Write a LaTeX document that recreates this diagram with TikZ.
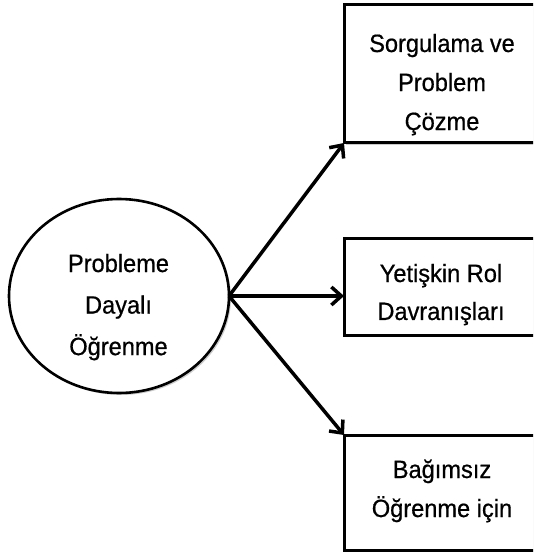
\documentclass[tikz,border=0pt]{standalone}
\usepackage{fontspec}
\setmainfont{Liberation Sans}
\newfontfamily\diagfont[FakeBold=0.6]{Liberation Sans}
\usetikzlibrary{arrows.meta,shadows,shapes.geometric}
\begin{document}
\begin{tikzpicture}[x=1pt,y=-1pt,
  shad/.style={drop shadow={shadow xshift=2pt, shadow yshift=-2pt, opacity=0.2, fill=black}},
  box/.style={draw, fill=white, line width=3pt, inner sep=0pt, outer sep=0pt, shad},
  oval/.style={draw, fill=white, ellipse, line width=2.6pt, inner sep=0pt, outer sep=0pt, shad},
  txt/.style={anchor=base, inner sep=0pt, yscale=1.06, transform shape, font=\diagfont\fontsize{23.6}{39}\selectfont},
  conn/.style={line width=3.5pt, line join=round, -{Straight Barb[length=10pt,width=18pt,line width=3.5pt]}}]
\useasboundingbox (0,0) rectangle (533,553);
\clip (0,0) rectangle (533,553);
\node[oval, minimum width=220pt, minimum height=194pt] (e) at (119,296) {};
\node[box, minimum width=196pt, minimum height=138pt] (b1) at (442,74) {};
\node[box, minimum width=196pt, minimum height=97pt] (b2) at (442,286.5) {};
\node[box, minimum width=196pt, minimum height=115pt] (b3) at (442,492.5) {};
\node[txt, font=\diagfont\fontsize{23.6}{39.2}\selectfont] (te) at (118.5,272) {\begin{tabular}[t]{@{}c@{}}Probleme\\Dayalı\\Öğrenme\end{tabular}};
\node[txt, font=\diagfont\fontsize{23.6}{36.8}\selectfont] (t1) at (442,52) {\begin{tabular}[t]{@{}c@{}}Sorgulama ve\\Problem\\Çözme\end{tabular}};
\node[txt, font=\diagfont\fontsize{23.6}{35.8}\selectfont] (t2) at (441,282) {\begin{tabular}[t]{@{}c@{}}Yetişkin Rol\\Davranışları\end{tabular}};
\node[txt, font=\diagfont\fontsize{23.6}{36.8}\selectfont] (t3) at (442,478) {\begin{tabular}[t]{@{}c@{}}Bağımsız\\Öğrenme için\end{tabular}};
\draw[conn] (e.east) -- (b1.south west);
\draw[conn] (e.east) -- (e.east -| b2.west);
\draw[conn] (e.east) -- (b3.north west);
\end{tikzpicture}
\end{document}
